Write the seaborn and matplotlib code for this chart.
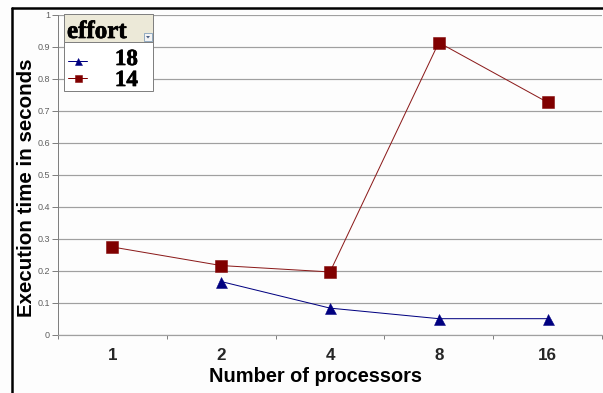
import numpy as np
import pandas as pd
import matplotlib
matplotlib.use("Agg")
import matplotlib.pyplot as plt
import matplotlib.patheffects as pe
from matplotlib.lines import Line2D
from matplotlib.patches import Rectangle, Polygon
import seaborn as sns

# Data
processors = ["1", "2", "4", "8", "16"]
effort_18 = [np.nan, 0.167, 0.084, 0.051, 0.051]
effort_14 = [0.275, 0.217, 0.197, 0.914, 0.727]
series_names = ["18", "14"]
series_colors = ["#000080", "#800000"]
y_ticks = [0, 0.1, 0.2, 0.3, 0.4, 0.5, 0.6, 0.7, 0.8, 0.9, 1.0]
y_tick_labels = ["0", "0.1", "0.2", "0.3", "0.4", "0.5", "0.6", "0.7", "0.8", "0.9", "1"]

rows = []
for name, vals in zip(series_names, [effort_18, effort_14]):
    for p, v in zip(processors, vals):
        if not np.isnan(v):
            rows.append({"procs": p, "time": v, "effort": name})
df = pd.DataFrame(rows)

W, H = 603, 393
DPI = 72
sns.set_theme(style="white")
plt.rcParams["font.family"] = ["Liberation Sans", "DejaVu Sans"]

fig = plt.figure(figsize=(W / DPI, H / DPI), dpi=DPI, facecolor="#fdfdfd")


def fx(x):
    return x / W


def fy(y):
    return 1 - y / H


heavy = [pe.withStroke(linewidth=0.7, foreground="black")]

# plot area in pixel terms
left, right, top, bottom = 58, 602, 15, 335
ax = fig.add_axes([fx(left), fy(bottom), fx(right) - fx(left), fy(top) - fy(bottom)])
ax.set_facecolor("#fdfdfd")

sns.pointplot(
    data=df, x="procs", y="time", hue="effort",
    order=processors, hue_order=series_names,
    palette=series_colors, markers=["^", "s"], linestyles=["-", "-"],
    errorbar=None, legend=False, ax=ax, linewidth=1.0,
)
# marker sizes per series
for line in ax.lines:
    c = matplotlib.colors.to_hex(line.get_color())
    if c == "#000080":
        line.set_markersize(11)
        line.set_markeredgewidth(0.5)
        line.set_markeredgecolor("#000080")
        line.set_markerfacecolor("#000080")
    else:
        line.set_color("#8b1a1a")
        line.set_markersize(12.5)
        line.set_markeredgewidth(0.5)
        line.set_markeredgecolor("#800000")
        line.set_markerfacecolor("#800000")
    line.set_zorder(5)

ax.set_xlim(-0.5, 4.5)
ax.set_ylim(0, 1)
ax.set_yticks(y_ticks)
ax.set_yticklabels(y_tick_labels)
ax.yaxis.grid(True, color="#a0a0a0", linewidth=1.2)
ax.xaxis.grid(False)
ax.set_xlabel("")
ax.set_ylabel("")

for s in ["top", "right"]:
    ax.spines[s].set_visible(False)
ax.spines["left"].set_color("#808080")
ax.spines["left"].set_linewidth(1.0)
ax.spines["bottom"].set_color("#a0a0a0")
ax.spines["bottom"].set_linewidth(1.2)

ax.tick_params(axis="y", which="major", direction="out", length=6, width=1,
               color="#808080", labelsize=9, labelcolor="#606060", pad=2, left=True)
ax.tick_params(axis="x", which="major", length=0, labelsize=17, pad=13)
for lbl in ax.get_xticklabels():
    lbl.set_fontweight("bold")
ax.set_xticks(np.arange(-0.5, 5.0, 1.0), minor=True)
ax.tick_params(axis="x", which="minor", direction="out", length=4, width=1,
               color="#808080", bottom=True)

# axis titles
fig.text(fx(316), fy(377), "Number of processors", ha="center", va="center",
         fontsize=20, fontweight="bold", color="black")
fig.text(fx(27), fy(188), "Execution time in seconds", ha="center", va="center",
         rotation=90, fontsize=20.5, fontweight="bold", color="black")

# chart frame (top and left edges)
fig.add_artist(Line2D([fx(12), fx(12)], [fy(8), 0], color="black", lw=2.5,
                      transform=fig.transFigure))
fig.add_artist(Line2D([fx(12), 1], [fy(8), fy(8)], color="black", lw=2.5,
                      transform=fig.transFigure))

# legend panel
tf = fig.transFigure
fig.add_artist(Rectangle((fx(64), fy(91)), fx(153) - fx(64), fy(14) - fy(91),
                         facecolor="white", edgecolor="#808080", lw=1,
                         transform=tf, zorder=10))
fig.add_artist(Rectangle((fx(64), fy(42)), fx(153) - fx(64), fy(14) - fy(42),
                         facecolor="#ece9d8", edgecolor="#808080", lw=1,
                         transform=tf, zorder=11))
fig.text(fx(67), fy(38), "effort", ha="left", va="baseline", fontsize=25,
         fontweight="bold", family="Liberation Serif", color="black",
         zorder=12, path_effects=heavy)
# dropdown button
fig.add_artist(Rectangle((fx(144), fy(41)), fx(152) - fx(144), fy(33) - fy(41),
                         facecolor="#f4f4f4", edgecolor="#7f9db9", lw=0.8,
                         transform=tf, zorder=12))
fig.add_artist(Polygon([(fx(146), fy(36)), (fx(150), fy(36)), (fx(148), fy(38.5))],
                       closed=True, facecolor="#4d6185", edgecolor="none",
                       transform=tf, zorder=13))
for name, color, marker, ms, ypix, ybase in [("18", "#000080", "^", 7, 61, 65),
                                             ("14", "#800000", "s", 7, 78, 86)]:
    fig.add_artist(Line2D([fx(68), fx(87)], [fy(ypix), fy(ypix)], color=color, lw=1,
                          transform=tf, zorder=12))
    fig.add_artist(Line2D([fx(77.5)], [fy(ypix)], color=color, marker=marker,
                          markersize=ms, markeredgewidth=0.5, linestyle="none",
                          transform=tf, zorder=13))
    fig.text(fx(138), fy(ybase), name, ha="right", va="baseline", fontsize=23,
             fontweight="bold", family="Liberation Serif", color="black",
             zorder=13, path_effects=heavy)

fig.savefig("out.png", dpi=DPI, facecolor=fig.get_facecolor())
